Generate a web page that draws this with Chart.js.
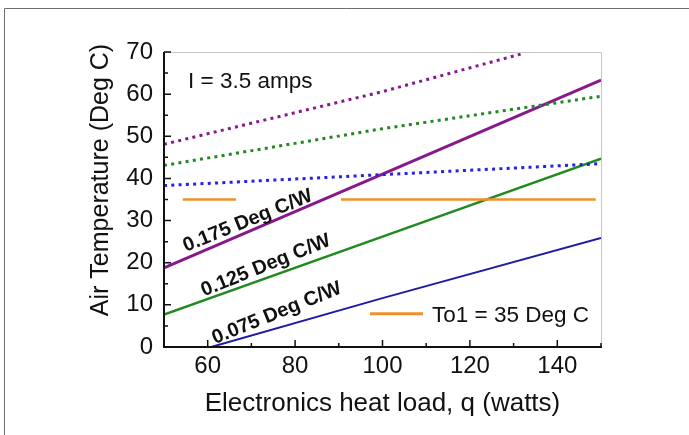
<!DOCTYPE html>
<html>
<head>
<meta charset="utf-8">
<script src="https://cdn.jsdelivr.net/npm/chart.js@4/dist/chart.umd.min.js"></script>
<style>
html,body{margin:0;padding:0;background:#fff;}
#wrap{position:relative;width:689px;height:435px;}
</style>
</head>
<body>
<div id="wrap"><canvas id="c" width="689" height="435"></canvas></div>
<script>
// ---- data ----
const xTickLabels = [60, 80, 100, 120, 140];
const yTickLabels = [0, 10, 20, 30, 40, 50, 60, 70];

const purpleSolidX = [50, 100, 150];
const purpleSolidY = [18.8, 41.0, 63.3];
const greenSolidX  = [50, 100, 150];
const greenSolidY  = [7.7, 26.2, 44.7];
const blueSolidX   = [60.8, 100, 150];
const blueSolidY   = [0, 11.6, 25.9];

const purpleDotX = [50, 100, 131.6];
const purpleDotY = [48.1, 60.6, 69.5];
const greenDotX  = [50, 100, 150];
const greenDotY  = [43.1, 51.8, 59.5];
const blueDotX   = [50, 100, 150];
const blueDotY   = [38.3, 40.9, 43.5];

const to1X = [54.3, 66.5, 78, 90.5, 148.8];
const to1Y = [35, 35, null, 35, 35];

const lineLabels = ["0.175 Deg C/W", "0.125 Deg C/W", "0.075 Deg C/W"];
const lineLabelX = [69.2, 73.3, 75.8];
const lineLabelY = [29.9, 19.3, 8.0];

const yTitle = 'Air Temperature (Deg C)';
const xTitle = 'Electronics heat load, q (watts)';

const FONT = '"Liberation Sans", Arial, sans-serif';
const pts = (xs, ys) => xs.map((x, i) => ({x: x, y: ys[i]}));

const C_PURPLE = '#861a8c', C_GREEN = '#1f8a1f', C_BLUE = '#1c1ca6',
      C_BLUED = '#2323e6', C_ORANGE = '#f0902c';

const decor = {
  id: 'decor',
  afterDraw(chart) {
    const ctx = chart.ctx, xs = chart.scales.x, ys = chart.scales.y;
    const L = xs.left, R = xs.right, T = ys.top, B = ys.bottom;
    ctx.save();
    // outer frame
    ctx.strokeStyle = '#6e6e6e'; ctx.lineWidth = 1;
    ctx.beginPath(); ctx.moveTo(4.5, 435); ctx.lineTo(4.5, 8.5); ctx.lineTo(689, 8.5); ctx.stroke();
    // top/right light frame
    ctx.strokeStyle = '#c4c4c4'; ctx.lineWidth = 1;
    ctx.beginPath(); ctx.moveTo(L, T + 0.5); ctx.lineTo(R + 0.5, T + 0.5); ctx.lineTo(R + 0.5, B); ctx.stroke();
    // axes
    ctx.strokeStyle = '#111'; ctx.lineWidth = 2;
    ctx.beginPath(); ctx.moveTo(L, T); ctx.lineTo(L, B); ctx.lineTo(R + 1, B); ctx.stroke();
    // ticks
    ctx.lineWidth = 1.5;
    ctx.beginPath();
    for (let v = 50; v <= 150; v += 10) {
      const px = xs.getPixelForValue(v);
      const len = (v % 20 === 0) ? 7 : 4;
      ctx.moveTo(px, B); ctx.lineTo(px, B - len);
    }
    for (let v = 0; v <= 70; v += 5) {
      const py = ys.getPixelForValue(v);
      const len = (v % 10 === 0) ? 7 : 4;
      ctx.moveTo(L, py); ctx.lineTo(L + len, py);
    }
    ctx.stroke();
    ctx.fillStyle = '#111';
    // y axis title
    ctx.save();
    ctx.font = '25px ' + FONT;
    ctx.textAlign = 'center'; ctx.textBaseline = 'alphabetic';
    ctx.translate(108, 180);
    ctx.rotate(-Math.PI / 2);
    ctx.fillText(yTitle, 0, 0);
    ctx.restore();
    // I = 3.5 amps
    ctx.font = '22.5px ' + FONT;
    ctx.textBaseline = 'middle'; ctx.textAlign = 'left';
    ctx.fillText('I = 3.5 amps', xs.getPixelForValue(55.5), ys.getPixelForValue(63.0));
    // legend
    const ly = ys.getPixelForValue(7.9);
    ctx.strokeStyle = C_ORANGE; ctx.lineWidth = 3;
    ctx.beginPath(); ctx.moveTo(370, ly); ctx.lineTo(423, ly); ctx.stroke();
    ctx.fillText('To1 = 35 Deg C', 432, ly + 2);
    // rotated labels
    ctx.font = 'bold 20px ' + FONT;
    ctx.textAlign = 'center';
    for (let i = 0; i < lineLabels.length; i++) {
      ctx.save();
      ctx.translate(xs.getPixelForValue(lineLabelX[i]), ys.getPixelForValue(lineLabelY[i]));
      ctx.rotate(-22 * Math.PI / 180);
      ctx.fillText(lineLabels[i], 0, 0);
      ctx.restore();
    }
    ctx.restore();
  }
};

const ds = (data, color, width, dash) => ({
  data: data, borderColor: color, borderWidth: width, pointRadius: 0,
  borderDash: dash || [], fill: false, tension: 0, spanGaps: false
});

new Chart(document.getElementById('c'), {
  type: 'line',
  data: {
    datasets: [
      ds(pts(purpleDotX, purpleDotY), C_PURPLE, 3, [3, 4.3]),
      ds(pts(greenDotX, greenDotY), C_GREEN, 3, [3, 4.3]),
      ds(pts(blueDotX, blueDotY), C_BLUED, 3, [3, 4.3]),
      ds(pts(to1X, to1Y), C_ORANGE, 2.5),
      ds(pts(purpleSolidX, purpleSolidY), C_PURPLE, 3),
      ds(pts(greenSolidX, greenSolidY), C_GREEN, 2.5),
      ds(pts(blueSolidX, blueSolidY), C_BLUE, 2)
    ]
  },
  options: {
    responsive: false,
    animation: false,
    events: [],
    layout: { padding: { top: 52, right: 88, left: 0, bottom: 0 } },
    plugins: { legend: { display: false }, tooltip: { enabled: false } },
    scales: {
      x: {
        type: 'linear', min: 50, max: 150,
        afterBuildTicks: s => { s.ticks = xTickLabels.map(v => ({value: v})); },
        afterFit: s => { s.height = 88; },
        grid: { display: false, drawTicks: false },
        border: { display: false },
        ticks: { color: '#111', padding: 5, font: { family: FONT, size: 24 }, maxRotation: 0 },
        title: { display: true, text: xTitle, color: '#111',
                 font: { family: FONT, size: 26 }, padding: { top: 0, bottom: 16 } }
      },
      y: {
        type: 'linear', min: 0, max: 70,
        afterBuildTicks: s => { s.ticks = yTickLabels.map(v => ({value: v})); },
        afterFit: s => { s.width = 164; },
        grid: { display: false, drawTicks: false },
        border: { display: false },
        ticks: { color: '#111', padding: 11, font: { family: FONT, size: 24 } },
        title: { display: false }
      }
    }
  },
  plugins: [decor]
});
</script>
</body>
</html>
